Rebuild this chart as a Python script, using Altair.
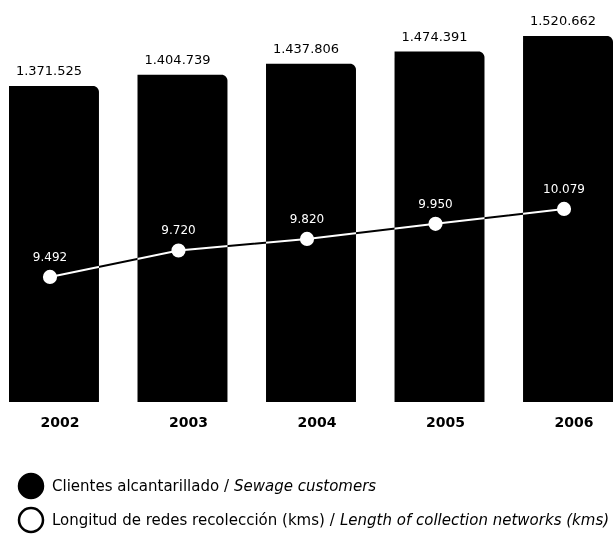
import altair as alt
import pandas as pd

# Annual figures
years = ["2002", "2003", "2004", "2005", "2006"]
clientes = [1371525, 1404739, 1437806, 1474391, 1520662]   # sewage customers
redes = [9492, 9720, 9820, 9950, 10079]                      # collection network length (kms)

legend_es = ["Clientes alcantarillado / ", "Longitud de redes recolección (kms) / "]
legend_en = ["Sewage customers", "Length of collection networks (kms)"]


def miles(v):
    return f"{v:,}".replace(",", ".")


df = pd.DataFrame({
    "year": years,
    "clientes": clientes,
    "redes": redes,
    "clientes_label": [miles(v) for v in clientes],
    "redes_label": [miles(v) for v in redes],
})

FONT = "DejaVu Sans"
PLOT_W, PLOT_H = 604, 402

x = alt.X("year:N", scale=alt.Scale(paddingInner=0.3, paddingOuter=0), axis=None)
c_scale = alt.Scale(domain=[426180, 1628693], zero=False, nice=False)
r_scale = alt.Scale(domain=[8413, 11881], zero=False, nice=False)
y_c = alt.Y("clientes:Q", scale=c_scale, axis=None)
y_r = alt.Y("redes:Q", scale=r_scale, axis=None)

base = alt.Chart(df)

bars = base.mark_bar(color="black", cornerRadiusTopRight=6).encode(
    x=x, y=y_c, y2=alt.datum(426180)
)
bar_labels = base.mark_text(
    font=FONT, fontSize=13, color="black", dy=-15, dx=-5, baseline="middle"
).encode(x=x, y=y_c, text="clientes_label:N")

# white over the bars, dark over the gaps between them
line = base.mark_line(color="white", strokeWidth=2, blend="difference", xOffset=-4).encode(
    x=x, y=y_r
)
points = base.mark_circle(color="white", size=200, opacity=1, xOffset=-4).encode(x=x, y=y_r)
line_labels = base.mark_text(
    font=FONT, fontSize=12, color="white", dy=-20, xOffset=-4, baseline="middle"
).encode(x=x, y=y_r, text="redes_label:N")

year_labels = base.mark_text(
    font=FONT, fontSize=14, fontWeight="bold", color="black", dx=6, baseline="middle"
).encode(x=x, y=alt.value(423), text="year:N")

# Custom legend: symbol, Spanish text, English text in italics
LEG_SIZE = 15
legend_rows = []
for i, (yy, filled, en_x) in enumerate([(486, True, 225), (520, False, 331)]):
    row = alt.Chart(pd.DataFrame({"es": [legend_es[i]], "en": [legend_en[i]]}))
    legend_rows.append(
        row.mark_point(
            shape="circle", size=576, filled=True,
            fill="black" if filled else "white", stroke="black",
            strokeWidth=2.5, opacity=1,
        ).encode(x=alt.value(22), y=alt.value(yy))
    )
    legend_rows.append(
        row.mark_text(font=FONT, fontSize=LEG_SIZE, color="black", align="left",
                      baseline="middle").encode(x=alt.value(43), y=alt.value(yy), text="es:N")
    )
    legend_rows.append(
        row.mark_text(font=FONT, fontSize=LEG_SIZE, fontStyle="italic", color="black",
                      align="left", baseline="middle").encode(
            x=alt.value(en_x), y=alt.value(yy), text="en:N"
        )
    )

chart = (
    alt.layer(bars, bar_labels, line, points, line_labels, year_labels, *legend_rows)
    .resolve_scale(y="independent")
    .properties(
        width=PLOT_W,
        height=PLOT_H,
        padding={"left": 9, "top": 0, "right": 0, "bottom": 142},
        autosize=alt.AutoSizeParams(type="none"),
        background="white",
    )
    .configure_view(stroke=None)
)

chart.save("out.html", embed_options={"renderer": "svg", "actions": False})
